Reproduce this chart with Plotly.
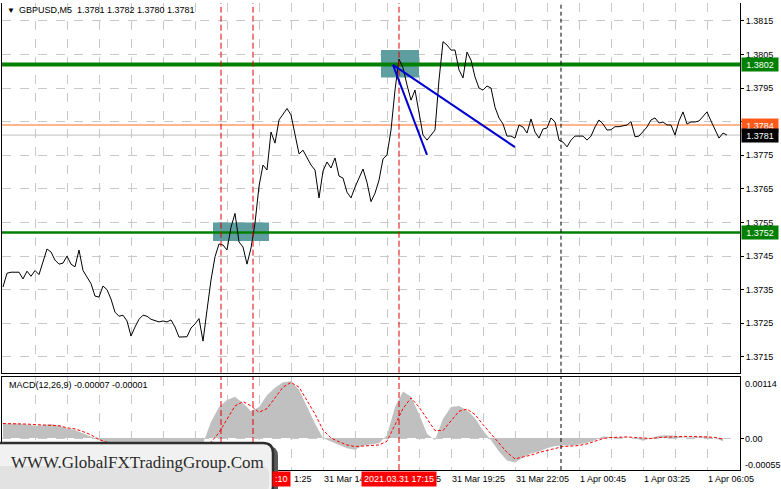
import plotly.graph_objects as go
import pandas as pd

# ---------------- data ----------------
closes = [
    1.37358, 1.37399, 1.37402, 1.37403, 1.37402, 1.37382, 1.37405, 1.37390, 1.37407, 1.37395,
    1.37432, 1.37471, 1.37462, 1.37438, 1.37426, 1.37429, 1.37450, 1.37426, 1.37418, 1.37468,
    1.37407, 1.37389, 1.37368, 1.37331, 1.37328, 1.37361, 1.37350, 1.37322, 1.37283, 1.37271,
    1.37274, 1.37257, 1.37212, 1.37239, 1.37262, 1.37274, 1.37271, 1.37262, 1.37257, 1.37254,
    1.37257, 1.37254, 1.37260, 1.37239, 1.37209, 1.37209, 1.37210, 1.37236, 1.37248, 1.37264,
    1.37197, 1.37289, 1.37379, 1.37448, 1.37486, 1.37483, 1.37468, 1.37536, 1.37577, 1.37492,
    1.37477, 1.37426, 1.37474, 1.37548, 1.37658, 1.37721, 1.37706, 1.37819, 1.37786, 1.37855,
    1.37873, 1.37889, 1.37870, 1.37816, 1.37754, 1.37765, 1.37745, 1.37721, 1.37706, 1.37623,
    1.37703, 1.37730, 1.37712, 1.37742, 1.37688, 1.37682, 1.37640, 1.37623, 1.37655, 1.37683,
    1.37709, 1.37669, 1.37612, 1.37637, 1.37676, 1.37739, 1.37751, 1.37825, 1.37944, 1.38036,
    1.38010, 1.37959, 1.37914, 1.37944, 1.37870, 1.37810, 1.37795, 1.37809, 1.37825, 1.37974,
    1.38088, 1.38078, 1.38063, 1.38063, 1.38004, 1.37980, 1.38057, 1.38033, 1.37983, 1.37950,
    1.37944, 1.37956, 1.37950, 1.37893, 1.37861, 1.37843, 1.37807, 1.37807, 1.37801, 1.37840,
    1.37834, 1.37816, 1.37858, 1.37819, 1.37801, 1.37828, 1.37831, 1.37861, 1.37849, 1.37795,
    1.37789, 1.37775, 1.37795, 1.37807, 1.37806, 1.37807, 1.37795, 1.37807, 1.37834, 1.37855,
    1.37843, 1.37825, 1.37826, 1.37835, 1.37835, 1.37837, 1.37840, 1.37850, 1.37805, 1.37807,
    1.37819, 1.37834, 1.37855, 1.37861, 1.37846, 1.37849, 1.37840, 1.37840, 1.37810, 1.37852,
    1.37879, 1.37843, 1.37849, 1.37849, 1.37852, 1.37864, 1.37879, 1.37852, 1.37828, 1.37801,
    1.37816, 1.37810,
]
price_start = "2021-03-31 00:45"
price_step = "10min"

macd_hist = [
    0.00027, 0.00027, 0.00027, 0.00025, 0.00023, 0.00024, 0.00026, 0.00023, 0.00018, 0.00015,
    0.00009, 0.00002, -0.00004, -0.00010, -0.00012, -0.00014, -0.00014, -0.00013, -0.00012, -0.00012,
    -0.00011, -0.00010, -0.00010, -0.00011, -0.00012, -0.00010, 0.00030, 0.00058, 0.00071, 0.00077,
    0.00065, 0.00050, 0.00058, 0.00080, 0.00094, 0.00104, 0.00106, 0.00090, 0.00058, 0.00027,
    0.00000, -0.00007, -0.00013, -0.00019, -0.00022, -0.00014, -0.00012, -0.00010, 0.00005, 0.00058,
    0.00087, 0.00077, 0.00045, 0.00008, -0.00004, 0.00036, 0.00058, 0.00060, 0.00052, 0.00037,
    0.00014, -0.00004, -0.00025, -0.00042, -0.00046, -0.00036, -0.00029, -0.00025, -0.00019, -0.00015,
    -0.00014, -0.00014, -0.00012, -0.00009, -0.00004, 0.00003, 0.00002, 0.00002, 0.00001, 0.00000,
    -0.00005, 0.00000, 0.00004, 0.00005, 0.00004, 0.00001, 0.00001, 0.00002, 0.00003, 0.00000,
    -0.00006,
]
macd_signal = [
    0.00027, 0.00027, 0.00027, 0.00026, 0.00025, 0.00024, 0.00024, 0.00023, 0.00019, 0.00017,
    0.00012, 0.00006, -0.00003, -0.00008, -0.00011, -0.00013, -0.00014, -0.00014, -0.00013, -0.00013,
    -0.00012, -0.00011, -0.00011, -0.00011, -0.00011, -0.00010, -0.00008, 0.00010, 0.00035, 0.00060,
    0.00068, 0.00060, 0.00048, 0.00055, 0.00075, 0.00095, 0.00104, 0.00095, 0.00070, 0.00045,
    0.00015, 0.00000, -0.00007, -0.00013, -0.00016, -0.00015, -0.00013, -0.00013, -0.00006, 0.00025,
    0.00055, 0.00075, 0.00058, 0.00036, 0.00014, 0.00014, 0.00033, 0.00050, 0.00054, 0.00044,
    0.00025, 0.00008, -0.00011, -0.00027, -0.00039, -0.00036, -0.00032, -0.00027, -0.00023, -0.00019,
    -0.00016, -0.00015, -0.00014, -0.00011, -0.00006, -0.00001, 0.00001, 0.00002, 0.00002, 0.00001,
    0.00000, -0.00001, 0.00001, 0.00002, 0.00003, 0.00003, 0.00003, 0.00003, 0.00002, 0.00001,
    -0.00002,
]
macd_start = "2021-03-31 00:45"
macd_step = "20min"

price_ticks = [1.3715, 1.3725, 1.3735, 1.3745, 1.3755, 1.3765, 1.3775, 1.3785, 1.3795, 1.3805, 1.3815]
time_label_times = ["2021-03-31 11:25", "2021-03-31 14:05", "2021-03-31 16:45", "2021-03-31 19:25",
                    "2021-03-31 22:05", "2021-04-01 00:45", "2021-04-01 03:25", "2021-04-01 06:05"]
time_label_texts = ["1:25", "31 Mar 14:05", "31 Mar 16:45", "31 Mar 19:25",
                    "31 Mar 22:05", "1 Apr 00:45", "1 Apr 03:25", "1 Apr 06:05"]

support_levels = [1.3802, 1.3752]
ask_level = 1.3784
bid_level = 1.3781
red_vlines = ["2021-03-31 09:50", "2021-03-31 11:10", "2021-03-31 17:15"]
day_sep = "2021-04-01 00:00"
boxes = [  # (t0, t1, p0, p1)
    ("2021-03-31 09:30", "2021-03-31 11:50", 1.37495, 1.37550),
    ("2021-03-31 16:30", "2021-03-31 18:05", 1.37981, 1.38063),
]
trend_lines = [  # (t0, p0, t1, p1)
    ("2021-03-31 17:00", 1.38019, "2021-03-31 22:05", 1.37774),
    ("2021-03-31 17:00", 1.38019, "2021-03-31 18:25", 1.37751),
]
title_text = "GBPUSD,M5  1.3781 1.3782 1.3780 1.3781"
macd_text = "MACD(12,26,9) -0.00007 -0.00001"
logo_text = "WWW.GlobalFXTradingGroup.Com"

# ---------------- geometry ----------------
W, H = 781, 489
L, R, T, B = 2, 41, 3, 19
PW, PH = W - L - R, H - T - B


def px(xp):
    return (xp - L) / PW


def py(yp):
    return (H - B - yp) / PH


price_times = pd.date_range(price_start, periods=len(closes), freq=price_step)
macd_times = pd.date_range(macd_start, periods=len(macd_hist), freq=macd_step)

FONT = "Liberation Sans"
x_range = ["2021-03-31 00:42:30", "2021-04-01 07:27:30"]

fig = go.Figure()

# rectangles (drawn as filled traces so they sit above the grid but below the price line)
for t0, t1, p0, p1 in boxes:
    fig.add_trace(go.Scatter(x=[t0, t1, t1, t0, t0], y=[p0, p0, p1, p1, p0], mode="lines",
                             fill="toself", fillcolor="#5f9ea0", line=dict(width=0),
                             xaxis="x", yaxis="y", hoverinfo="skip"))
# bid / ask lines
fig.add_trace(go.Scatter(x=x_range, y=[bid_level, bid_level], mode="lines",
                         line=dict(color="#c0c0c0", width=1), xaxis="x", yaxis="y", hoverinfo="skip"))
fig.add_trace(go.Scatter(x=x_range, y=[ask_level, ask_level], mode="lines",
                         line=dict(color="#ff6a1a", width=1), xaxis="x", yaxis="y", hoverinfo="skip"))
# support / resistance
for lvl, w in zip(support_levels, [4, 2.5]):
    fig.add_trace(go.Scatter(x=x_range, y=[lvl, lvl], mode="lines",
                             line=dict(color="#008000", width=w), xaxis="x", yaxis="y", hoverinfo="skip"))

fig.add_trace(go.Scatter(x=macd_times, y=macd_hist, mode="lines", line=dict(width=0, color="#c0c0c0"),
                         fill="tozeroy", fillcolor="#c0c0c0", xaxis="x2", yaxis="y2", hoverinfo="skip"))
fig.add_trace(go.Scatter(x=macd_times, y=macd_signal, mode="lines",
                         line=dict(width=1, color="#ff0000", dash="3px,2px"), xaxis="x2", yaxis="y2"))
fig.add_trace(go.Scatter(x=price_times, y=closes, mode="lines", line=dict(width=1, color="black"),
                         xaxis="x", yaxis="y"))

grid = dict(showgrid=True, gridcolor="#c8c8c8", griddash="dash", gridwidth=1)

fig.update_layout(
    width=W, height=H, margin=dict(l=L, r=R, t=T, b=B, autoexpand=False),
    paper_bgcolor="white", plot_bgcolor="white", showlegend=False,
    font=dict(family=FONT, size=9, color="black"),
    xaxis=dict(domain=[0, 1], anchor="y", range=x_range, type="date", showticklabels=False,
               tick0="2021-03-31 00:45", dtick=80 * 60 * 1000, ticks="", zeroline=False,
               showline=True, linecolor="black", linewidth=1, **grid),
    xaxis2=dict(domain=[0, 1], anchor="y2", matches="x", range=x_range, type="date", showticklabels=False,
                tick0="2021-03-31 00:45", dtick=80 * 60 * 1000, ticks="", zeroline=False,
                showline=True, linecolor="black", linewidth=1, mirror=True, **grid),
    yaxis=dict(domain=[py(372.7), 1], anchor="x", side="right", range=[1.37103, 1.38203],
               tickvals=price_ticks, ticktext=[f"{v:.4f}" for v in price_ticks],
               ticks="outside", ticklen=3, tickcolor="black", showline=True, linecolor="black",
               mirror=True, zeroline=False, automargin=False,
               tickfont=dict(family=FONT, size=9, color="black"), **grid),
    yaxis2=dict(domain=[0, py(377)], anchor="x2", side="right", range=[-0.000598, 0.00114],
                tickvals=[0], showticklabels=False, ticks="outside", ticklen=3, tickcolor="black",
                showline=True, linecolor="black", mirror=True, zeroline=False, automargin=False, **grid),
)

shapes = []
# vertical lines
for t in red_vlines:
    for xr, yr in [("x", "y domain"), ("x2", "y2 domain")]:
        shapes.append(dict(type="line", xref=xr, yref=yr, x0=t, x1=t, y0=0, y1=1,
                           line=dict(color="#e00000", width=1, dash="6px,3px"), layer="above"))
for xr, yr in [("x", "y domain"), ("x2", "y2 domain")]:
    shapes.append(dict(type="line", xref=xr, yref=yr, x0=day_sep, x1=day_sep, y0=0, y1=1,
                       line=dict(color="black", width=1, dash="4px,3px"), layer="above"))
# trend lines
for t0, p0, t1, p1 in trend_lines:
    shapes.append(dict(type="line", xref="x", yref="y", x0=t0, y0=p0, x1=t1, y1=p1,
                       line=dict(color="#0000d0", width=2), layer="above"))


# logo (rounded box)
def rrect(x0, y0, x1, y1, r):
    rx, ry = r / PW, r / PH
    X0, X1, Y0, Y1 = px(x0), px(x1), py(y1), py(y0)
    return (f"M {X0+rx},{Y1} L {X1-rx},{Y1} Q {X1},{Y1} {X1},{Y1-ry} L {X1},{Y0+ry} "
            f"Q {X1},{Y0} {X1-rx},{Y0} L {X0+rx},{Y0} Q {X0},{Y0} {X0},{Y0+ry} L {X0},{Y1-ry} "
            f"Q {X0},{Y1} {X0+rx},{Y1} Z")


shapes.append(dict(type="path", xref="paper", yref="paper", path=rrect(-12, 446, 278, 500, 10),
                   fillcolor="#5a5a5a", line=dict(width=0), layer="above"))
shapes.append(dict(type="path", xref="paper", yref="paper", path=rrect(-12, 443, 273, 496, 10),
                   fillcolor="#f1f1f1", line=dict(color="#2e2e2e", width=2.5), layer="above"))
shapes.append(dict(type="path", xref="paper", yref="paper", path=rrect(-8, 466, 269, 492, 8),
                   fillcolor="#e2e2e2", line=dict(width=0), layer="above"))
fig.update_layout(shapes=shapes)

ann = []
ann.append(dict(text="▼", x=px(5), y=py(10), xref="paper", yref="paper", xanchor="left", yanchor="middle",
                showarrow=False, font=dict(size=8, color="black")))
ann.append(dict(text=title_text, x=px(17), y=py(10), xref="paper", yref="paper", xanchor="left",
                yanchor="middle", showarrow=False, font=dict(size=9, color="black")))
ann.append(dict(text=macd_text, x=px(7), y=py(385), xref="paper", yref="paper", xanchor="left",
                yanchor="middle", showarrow=False, font=dict(size=9, color="black")))
# time labels
for t, s in zip(time_label_times, time_label_texts):
    if s == "1:25":
        ann.append(dict(text=s, x=px(292), y=py(479), xref="paper", yref="paper", xanchor="left",
                        yanchor="middle", showarrow=False, font=dict(size=9)))
    else:
        ann.append(dict(text=s, x=t, y=py(479), xref="x", yref="paper", xanchor="left", xshift=-1,
                        yanchor="middle", showarrow=False, font=dict(size=9)))
# red line labels
ann.append(dict(text="2021.03.31 17:15", x=red_vlines[2], y=py(479), xref="x", yref="paper",
                xanchor="center", yanchor="middle", showarrow=False, bgcolor="#ff0000",
                borderpad=2, font=dict(size=9, color="white")))
ann.append(dict(text=":10", x=px(291), y=py(479), xref="paper", yref="paper",
                xanchor="right", yanchor="middle", showarrow=False, bgcolor="#ff0000",
                borderpad=2, font=dict(size=9, color="white")))
# MACD scale labels
for s, yy in [("0.00114", 384), ("0.00", 439), ("-0.00055", 465)]:
    ann.append(dict(text=s, x=px(743), y=py(yy), xref="paper", yref="paper", xanchor="left",
                    yanchor="middle", showarrow=False, font=dict(size=9, color="black")))
# price boxes on the right scale
for lvl, bg in [(support_levels[0], "#008000"), (support_levels[1], "#008000"),
                (ask_level, "#ff5a1a"), (bid_level, "black")]:
    ann.append(dict(text=f"{lvl:.4f}", x=px(741), y=lvl, xref="paper", yref="y", xanchor="left",
                    yanchor="middle", showarrow=False, bgcolor=bg, width=34, height=11, borderpad=1,
                    font=dict(size=9, color="white")))
# logo text
ann.append(dict(text=logo_text, x=px(137), y=py(462), xref="paper", yref="paper", xanchor="center",
                yanchor="middle", showarrow=False,
                font=dict(family="Liberation Serif", size=17, color="#2b2b2b")))
fig.update_layout(annotations=ann)

fig.write_html("out.html", config={"displayModeBar": False},
               post_script="document.body.style.margin='0';document.body.style.padding='0';")
